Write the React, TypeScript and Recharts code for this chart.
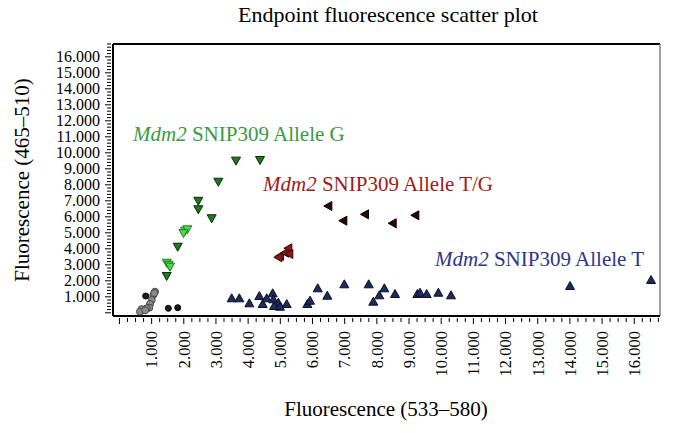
import React from 'react';
import { ScatterChart, Scatter, XAxis, YAxis, ReferenceLine } from 'recharts';

const FONT = '"Liberation Serif", "DejaVu Serif", serif';

// ---- data ----
const undeterminedGrey = [
  { x: 1105, y: 1320 }, { x: 1053, y: 1110 }, { x: 1003, y: 800 }, { x: 950, y: 550 },
  { x: 928, y: 320 }, { x: 847, y: 280 }, { x: 742, y: 175 }, { x: 690, y: 230 },
  { x: 639, y: 70 }, { x: 800, y: 160 }, { x: 1080, y: 1230 },
];
const negativeBlack = [
  { x: 816, y: 1050 }, { x: 1520, y: 280 }, { x: 1811, y: 320 },
];
const alleleGDark = [
  { x: 3623, y: 9510 }, { x: 4369, y: 9550 }, { x: 3073, y: 8190 }, { x: 2451, y: 7000 },
  { x: 2451, y: 6470 }, { x: 2867, y: 5910 }, { x: 1811, y: 4130 }, { x: 1469, y: 2300 },
];
const alleleGBright = [
  { x: 2038, y: 5130 }, { x: 2110, y: 5220 }, { x: 1990, y: 4980 },
  { x: 1469, y: 3130 }, { x: 1530, y: 3000 }, { x: 1572, y: 2880 },
];
const alleleTGDark = [
  { x: 6492, y: 6675 }, { x: 6958, y: 5756 }, { x: 7632, y: 6156 },
  { x: 8493, y: 5594 }, { x: 9196, y: 6094 },
];
const alleleTGRed = [
  { x: 4990, y: 3550 }, { x: 5146, y: 3756 }, { x: 5249, y: 4031 },
  { x: 5280, y: 3675 }, { x: 4938, y: 3469 },
];
const alleleT = [
  { x: 3489, y: 906 }, { x: 3726, y: 906 }, { x: 4037, y: 594 }, { x: 4348, y: 1050 },
  { x: 4452, y: 550 }, { x: 4577, y: 906 }, { x: 4763, y: 1219 }, { x: 4783, y: 844 },
  { x: 4938, y: 631 }, { x: 4990, y: 381 }, { x: 5198, y: 550 }, { x: 4804, y: 425 },
  { x: 5840, y: 550 }, { x: 5923, y: 756 }, { x: 6162, y: 1531 }, { x: 6461, y: 1069 },
  { x: 6989, y: 1781 }, { x: 7747, y: 1781 }, { x: 8077, y: 1094 }, { x: 7890, y: 694 },
  { x: 8233, y: 1531 }, { x: 8565, y: 1175 }, { x: 9259, y: 1175 }, { x: 9341, y: 1256 },
  { x: 9548, y: 1175 }, { x: 9911, y: 1256 }, { x: 10305, y: 1094 }, { x: 14004, y: 1675 },
  { x: 16521, y: 2050 },
];

const labelG = [{ x: 422, y: 10740 }];
const labelTG = [{ x: 4462, y: 7600 }];
const labelT = [{ x: 9808, y: 2950 }];

const DOMAIN: [number, number] = [-200, 16800];
const xTicks = Array.from({ length: 68 }, (_, i) => i * 250);
const yTicks = Array.from({ length: 85 }, (_, i) => i * 200);
const fmt = (v: number) => `${v / 1000}.000`;

// ---- shapes ----
const downTri = (fill: string, stroke: string) => (p: any) => {
  const { cx, cy } = p;
  return <polygon points={`${cx - 4.5},${cy - 3.5} ${cx + 4.5},${cy - 3.5} ${cx},${cy + 4.5}`} fill={fill} stroke={stroke} strokeWidth={1} />;
};
const upTri = (fill: string, stroke: string) => (p: any) => {
  const { cx, cy } = p;
  return <polygon points={`${cx},${cy - 4.5} ${cx - 4.5},${cy + 3.5} ${cx + 4.5},${cy + 3.5}`} fill={fill} stroke={stroke} strokeWidth={1} />;
};
const leftTri = (fill: string, stroke: string) => (p: any) => {
  const { cx, cy } = p;
  return <polygon points={`${cx - 4.5},${cy} ${cx + 3.5},${cy - 4.5} ${cx + 3.5},${cy + 4.5}`} fill={fill} stroke={stroke} strokeWidth={1} />;
};
const circ = (fill: string, stroke: string, r: number) => (p: any) => {
  const { cx, cy } = p;
  return <circle cx={cx} cy={cy} r={r} fill={fill} stroke={stroke} strokeWidth={1} />;
};
const anno = (color: string, rest: string) => (p: any) => (
  <text x={p.cx} y={p.cy} fill={color} fontSize={21} fontFamily={FONT} style={{ fontFamily: FONT }}>
    <tspan fontStyle="italic" style={{ fontFamily: FONT }}>Mdm2</tspan> SNIP309 {rest}
  </text>
);

const XTick = (props: any) => {
  const { x, y, payload } = props;
  const v = payload.value;
  const major = v % 1000 === 0;
  return (
    <g>
      <line x1={x} x2={x} y1={y} y2={y + (major ? 6 : 4)} stroke="#000" strokeWidth={1} />
      {major && v > 0 && (
        <text transform={`translate(${x},${y + 13}) rotate(-90)`} textAnchor="end" dy="0.35em"
          fontSize={16.5} fontFamily={FONT} style={{ fontFamily: FONT }} fill="#000">{fmt(v)}</text>
      )}
    </g>
  );
};

const YTick = (props: any) => {
  const { x, y, payload } = props;
  const v = payload.value;
  const major = v % 1000 === 0;
  return (
    <g>
      <line x1={x} x2={x - (major ? 6 : 4)} y1={y} y2={y} stroke="#000" strokeWidth={1} />
      {major && v > 0 && (
        <text x={x - 11} y={y} textAnchor="end" dy="0.35em" fontSize={16} fontFamily={FONT}
          style={{ fontFamily: FONT }} fill="#000">{fmt(v)}</text>
      )}
    </g>
  );
};

export default function App() {
  return (
    <div style={{ position: 'absolute', left: 0, top: 0, width: 675, height: 433, background: '#fff' }}>
      <ScatterChart width={675} height={433} margin={{ top: 44, right: 15, bottom: 0, left: 0 }}>
        <XAxis type="number" dataKey="x" domain={DOMAIN} allowDataOverflow ticks={xTicks} interval={0}
          height={117} tickSize={0} tickLine={false} tick={<XTick />} axisLine={{ stroke: '#000', strokeWidth: 2 }} />
        <YAxis type="number" dataKey="y" domain={DOMAIN} allowDataOverflow ticks={yTicks} interval={0}
          width={113} tickSize={0} tickLine={false} tick={<YTick />} axisLine={{ stroke: '#000', strokeWidth: 2 }} />
        <ReferenceLine y={16800} stroke="#000" strokeWidth={2} />
        <ReferenceLine x={16800} stroke="#808080" strokeWidth={1.5} />
        <Scatter data={undeterminedGrey} shape={circ('#8a8a8a', '#4a4a4a', 3.5)} isAnimationActive={false} />
        <Scatter data={negativeBlack} shape={circ('#1a1a1a', '#000', 3)} isAnimationActive={false} />
        <Scatter data={alleleGDark} shape={downTri('#1f7a1f', '#0b2a0b')} isAnimationActive={false} />
        <Scatter data={alleleGBright} shape={downTri('#44dd44', '#2a7a2a')} isAnimationActive={false} />
        <Scatter data={alleleTGDark} shape={leftTri('#2a0606', '#000')} isAnimationActive={false} />
        <Scatter data={alleleTGRed} shape={leftTri('#8b1818', '#3a0505')} isAnimationActive={false} />
        <Scatter data={alleleT} shape={upTri('#1c2b5a', '#0a1028')} isAnimationActive={false} />
        <Scatter data={labelG} shape={anno('#3a9a44', 'Allele G')} isAnimationActive={false} />
        <Scatter data={labelTG} shape={anno('#9e1b20', 'Allele T/G')} isAnimationActive={false} />
        <Scatter data={labelT} shape={anno('#2f3589', 'Allele T')} isAnimationActive={false} />
      </ScatterChart>
      <svg width={675} height={433} style={{ position: 'absolute', left: 0, top: 0, pointerEvents: 'none' }}>
        <text x={388} y={22} textAnchor="middle" fontSize={22} fontFamily={FONT} style={{ fontFamily: FONT }} fill="#000">Endpoint fluorescence scatter plot</text>
        <text x={386} y={416} textAnchor="middle" fontSize={21} fontFamily={FONT} style={{ fontFamily: FONT }} fill="#000">Fluorescence (533–580)</text>
        <text transform="translate(29,180) rotate(-90)" textAnchor="middle" fontSize={21} fontFamily={FONT} style={{ fontFamily: FONT }} fill="#000">Fluorescence (465–510)</text>
      </svg>
    </div>
  );
}
